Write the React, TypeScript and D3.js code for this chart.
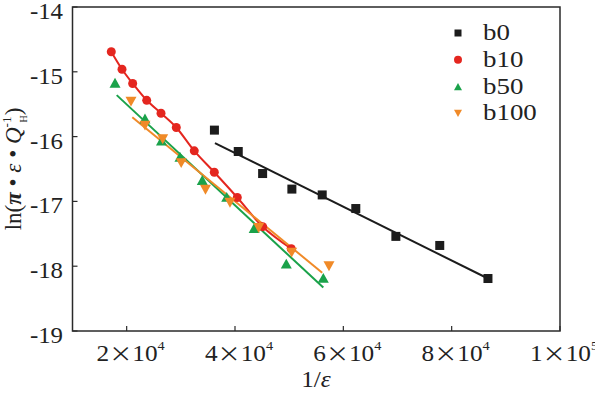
import React from "react";
import * as d3 from "d3";

const b0X = [36200, 40600, 45100, 50500, 56100, 62300, 69700, 77800, 86700];
const b0Y = [-15.9, -16.23, -16.57, -16.81, -16.9, -17.11, -17.54, -17.68, -18.19];
const b10X = [17160, 19140, 21110, 23700, 26340, 29160, 32480, 36180, 40420, 45110, 50390];
const b10Y = [-14.69, -14.96, -15.18, -15.44, -15.64, -15.86, -16.22, -16.55, -16.94, -17.39, -17.73];
const b50X = [17850, 23380, 26430, 29840, 33960, 38470, 43540, 49470, 56300];
const b50Y = [-15.17, -15.72, -16.06, -16.31, -16.67, -16.93, -17.41, -17.96, -18.18];
const b100X = [20800, 23380, 26650, 30070, 34550, 39070, 44370, 50460, 57350];
const b100Y = [-15.46, -15.83, -16.04, -16.41, -16.82, -17.02, -17.41, -17.79, -18.0];

const fitB0X = [36300, 86700];
const fitB0Y = [-16.1, -18.19];
const fitB50X = [18160, 56300];
const fitB50Y = [-15.36, -18.33];
const fitB100X = [21040, 56100];
const fitB100Y = [-15.7, -18.1];

const xTickMant = ["2", "4", "6", "8", "1"];
const xTickExp = ["4", "4", "4", "4", "5"];
const xTickVals = [20000, 40000, 60000, 80000, 100000];
const yTickVals = [-19, -18, -17, -16, -15, -14];
const legendNames = ["b0", "b10", "b50", "b100"];

const W = 595;
const H = 393;
const FONT = "'Liberation Serif', 'Times New Roman', serif";
const CJK = "'Noto Sans CJK SC', 'Liberation Serif', serif";

const cBlack = "#1c1c1c";
const cRed = "#e4261f";
const cGreen = "#1aa24a";
const cOrange = "#f08a28";

const x = d3.scaleLinear().domain([10000, 100000]).range([72.5, 560]);
const y = d3.scaleLinear().domain([-19, -14]).range([331, 7]);

function zip(xs: number[], ys: number[]): [number, number][] {
  return xs.map((v, i) => [v, ys[i]]);
}

type Shape = "square" | "circle" | "up" | "down";

function Marker({ cx, cy, shape, color, s }: { cx: number; cy: number; shape: Shape; color: string; s: number }) {
  if (shape === "square") return <rect x={cx - s / 2} y={cy - s / 2} width={s} height={s} fill={color} />;
  if (shape === "circle") return <circle cx={cx} cy={cy} r={s / 2} fill={color} />;
  const h = s * 0.9;
  if (shape === "up")
    return (
      <path
        d={`M${cx},${cy - h / 2}L${cx + s / 2},${cy + h / 2}L${cx - s / 2},${cy + h / 2}Z`}
        fill={color}
      />
    );
  return (
    <path
      d={`M${cx - s / 2},${cy - h / 2}L${cx + s / 2},${cy - h / 2}L${cx},${cy + h / 2}Z`}
      fill={color}
    />
  );
}

export default function App() {
  const line = d3
    .line<[number, number]>()
    .x((d) => x(d[0]))
    .y((d) => y(d[1]));
  const curve = d3
    .line<[number, number]>()
    .x((d) => x(d[0]))
    .y((d) => y(d[1]))
    .curve(d3.curveCatmullRom.alpha(0.5));

  const series: { xs: number[]; ys: number[]; shape: Shape; color: string; size: number }[] = [
    { xs: b0X, ys: b0Y, shape: "square", color: cBlack, size: 9 },
    { xs: b10X, ys: b10Y, shape: "circle", color: cRed, size: 9 },
    { xs: b50X, ys: b50Y, shape: "up", color: cGreen, size: 11 },
    { xs: b100X, ys: b100Y, shape: "down", color: cOrange, size: 11 },
  ];
  const legendShapes: Shape[] = ["square", "circle", "up", "down"];
  const legendColors = [cBlack, cRed, cGreen, cOrange];

  const x0 = x.range()[0];
  const x1 = x.range()[1];
  const y0 = y.range()[0];
  const y1 = y.range()[1];

  return (
    <svg
      width={W}
      height={H}
      style={{ position: "absolute", left: 0, top: 0, background: "#fff" }}
      fontFamily={FONT}
    >
      <rect x={0} y={0} width={W} height={H} fill="#fff" />
      {/* fit lines */}
      <path d={line(zip(fitB0X, fitB0Y)) || ""} stroke={cBlack} strokeWidth={2} fill="none" />
      <path d={curve(zip(b10X, b10Y)) || ""} stroke={cRed} strokeWidth={2} fill="none" />
      <path d={line(zip(fitB50X, fitB50Y)) || ""} stroke={cGreen} strokeWidth={2} fill="none" />
      <path d={line(zip(fitB100X, fitB100Y)) || ""} stroke={cOrange} strokeWidth={2} fill="none" />

      {/* markers */}
      {series.map((s, si) => (
        <g key={si}>
          {s.xs.map((v, i) => (
            <Marker key={i} cx={x(v)} cy={y(s.ys[i])} shape={s.shape} color={s.color} s={s.size} />
          ))}
        </g>
      ))}

      {/* frame */}
      <rect x={x0} y={y1} width={x1 - x0} height={y0 - y1} fill="none" stroke="#2a2a2a" strokeWidth={1.5} />

      {/* x ticks */}
      {xTickVals.map((v, i) => (
        <g key={i}>
          <line x1={x(v)} x2={x(v)} y1={y0} y2={y0 - 5} stroke="#2a2a2a" strokeWidth={1.2} />
          <g transform={`translate(${x(v) + 4},361) scale(1.1,1)`}>
            <text textAnchor="middle" fontSize={23} fill="#222">
              <tspan>{xTickMant[i]}</tspan>
              <tspan fontFamily={CJK} fontSize={21}>×</tspan>
              <tspan>10</tspan>
              <tspan fontSize={13} dy={-11}>{xTickExp[i]}</tspan>
            </text>
          </g>
        </g>
      ))}

      {/* y ticks */}
      {yTickVals.map((v, i) => (
        <g key={i}>
          <line x1={x0} x2={x0 + 5} y1={y(v)} y2={y(v)} stroke="#2a2a2a" strokeWidth={1.2} />
          <g transform={`translate(63,${y(v) + 12}) scale(1.08,1)`}>
            <text textAnchor="end" fontSize={23} fill="#222">
              {String(v).replace("−", "-")}
            </text>
          </g>
        </g>
      ))}

      {/* axis titles */}
      <g transform={`translate(316,387) scale(1.1,1)`}>
        <text textAnchor="middle" fontSize={23} fill="#222">
          <tspan>1/</tspan>
          <tspan fontStyle="italic">ε</tspan>
        </text>
      </g>
      <g transform={`translate(21,169) rotate(-90)`}>
        <text textAnchor="middle" fontSize={23} fill="#222">
          <tspan>ln(</tspan>
          <tspan fontStyle="italic" fontWeight="bold">π</tspan>
          <tspan> • </tspan>
          <tspan fontStyle="italic">ε</tspan>
          <tspan> • </tspan>
          <tspan fontStyle="italic">Q</tspan>
          <tspan fontSize={13} dy={-10}>-1</tspan>
          <tspan fontSize={10} dx={-6} dy={16}>H</tspan>
          <tspan dy={-6}>)</tspan>
        </text>
      </g>

      {/* legend */}
      {legendNames.map((n, i) => {
        const base = 40 + i * 26.8;
        return (
          <g key={i}>
            <Marker cx={458} cy={base - 7} shape={legendShapes[i]} color={legendColors[i]} s={i === 0 ? 7 : 8} />
            <g transform={`translate(483,${base}) scale(1.17,1)`}>
              <text fontSize={23} fill="#222">
                {n}
              </text>
            </g>
          </g>
        );
      })}
    </svg>
  );
}
